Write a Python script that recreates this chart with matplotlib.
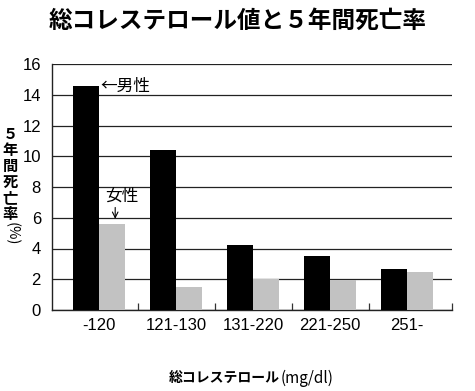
import matplotlib
matplotlib.use("Agg")
import matplotlib.pyplot as plt
import numpy as np

categories = ["-120", "121-130", "131-220", "221-250", "251-"]
male = [14.6, 10.4, 4.2, 3.5, 2.65]
female = [5.6, 1.5, 2.0, 1.95, 2.5]
yticks = [0, 2, 4, 6, 8, 10, 12, 14, 16]

JP = ["Noto Sans CJK JP", "DejaVu Sans"]
LAT = ["Liberation Sans", "DejaVu Sans"]

fig = plt.figure(figsize=(4.75, 3.91), dpi=100)
ax = fig.add_axes([52/475, 1-310/391, 400/475, (310-64)/391])

x = np.arange(len(categories))
w = 0.335
ax.bar(x - w/2, male, width=w, color="black", zorder=3)
ax.bar(x + w/2, female, width=w, color="#c2c2c2", zorder=3)

ax.set_xlim(-0.61, 4.58)
ax.set_ylim(0, 16)
ax.set_yticks(yticks)
ax.set_yticklabels([str(t) for t in yticks], family=LAT, fontsize=12)
ax.tick_params(axis="y", length=0, pad=8)
ax.yaxis.grid(True, color="#222222", linewidth=0.9, zorder=0)
ax.set_axisbelow(True)

ax.set_xticks(x)
ax.set_xticklabels(categories, family=LAT, fontsize=12)
ax.tick_params(axis="x", which="major", length=0, pad=6)
ax.set_xticks([0.5, 1.5, 2.5, 3.5, 4.58], minor=True)
ax.tick_params(axis="x", which="minor", direction="in", length=5, width=0.9, color="#333333")

for s in ["top", "right"]:
    ax.spines[s].set_visible(False)
for s in ["left", "bottom"]:
    ax.spines[s].set_linewidth(1.0)
    ax.spines[s].set_color("#222222")

# annotations
ax.text(0.02, 14.55, "←男性", family=JP, fontsize=12, va="center", ha="left")
ax.text(0.3, 7.4, "女性", family=JP, fontsize=12, va="center", ha="center")
ax.annotate("", xy=(0.21, 5.75), xytext=(0.21, 6.85),
            arrowprops=dict(arrowstyle="->", color="black", lw=0.8))

# title
fig.text(238/475, 1-21/391, "総コレステロール値と５年間死亡率", family=JP,
         fontsize=17, fontweight="bold", ha="center", va="center")

# y label (vertical)
ylab = "５\n年\n間\n死\n亡\n率"
fig.text(10/475, 1-174/391, ylab, family=JP, fontsize=11, fontweight="bold",
         ha="center", va="center", linespacing=1.0)
fig.text(12/475, 1-234/391, "(%)", family=JP, fontsize=10.5, rotation=-90,
         ha="center", va="center")

# x label
fig.text(280/475, 1-378/391, "総コレステロール", family=JP, fontsize=10,
         fontweight="bold", ha="right", va="center")
fig.text(281/475, 1-378/391, "(mg/dl)", family=JP, fontsize=11,
         ha="left", va="center")
fig.savefig("out.png", dpi=100)
